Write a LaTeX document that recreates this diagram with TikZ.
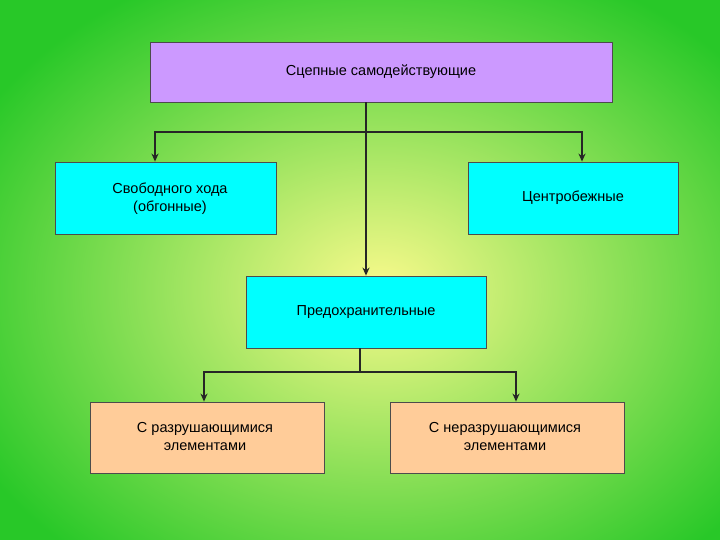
\documentclass[tikz,border=0pt]{standalone}
\usepackage{fontspec}
\setmainfont{Liberation Sans}
\usetikzlibrary{arrows.meta}
\definecolor{cy}{RGB}{0,255,255}
\definecolor{vi}{RGB}{204,153,255}
\definecolor{pe}{RGB}{255,204,153}
\begin{document}
\begin{tikzpicture}[x=1pt,y=-1pt,
  box/.style={draw=black!70,line width=0.8pt,align=center,font=\fontsize{14.5}{18}\selectfont,inner sep=2pt},
  tx/.style={align=center,font=\fontsize{14.5}{18}\selectfont},
  conn/.style={line width=1.4pt,black!85},
  arr/.style={conn,-{Stealth[length=8pt,width=7pt]}}]
\useasboundingbox (0,0) rectangle (720,540);
\shade[inner color={rgb,255:red,250;green,250;blue,140},outer color={rgb,255:red,40;green,200;blue,40}] (-80,-60) rectangle (840,640);
\node[box,fill=vi,minimum width=462pt,minimum height=60pt] (top) at (381,72) {Сцепные самодействующие};
\node[box,fill=cy,minimum width=221pt,minimum height=72pt] (left) at (165.5,198) {};
\node[tx] (lt) at (170,199) {Свободного хода\\(обгонные)};
\node[box,fill=cy,minimum width=210pt,minimum height=72pt] (right) at (573,198) {Центробежные};
\node[box,fill=cy,minimum width=240pt,minimum height=72pt] (mid) at (366,312) {Предохранительные};
\node[box,fill=pe,minimum width=234pt,minimum height=71pt] (bl) at (207,437.5) {};
\node[tx] (blt) at (205,437) {С разрушающимися\\элементами};
\node[box,fill=pe,minimum width=234pt,minimum height=71pt] (br) at (507,437.5) {};
\node[tx] (brt) at (505,437) {С неразрушающимися\\элементами};
\coordinate (j1) at (366,132);
\coordinate (j2) at (360,372);
\draw[arr] (top.south -| j1) -- (mid.north -| j1);
\draw[arr] (j1) -| (left.north -| 155,0);
\draw[arr] (j1) -| (right.north -| 582,0);
\draw[conn] (mid.south -| j2) -- (j2);
\draw[arr] (j2) -| (bl.north -| 204,0);
\draw[arr] (j2) -| (br.north -| 516,0);
\end{tikzpicture}
\end{document}
